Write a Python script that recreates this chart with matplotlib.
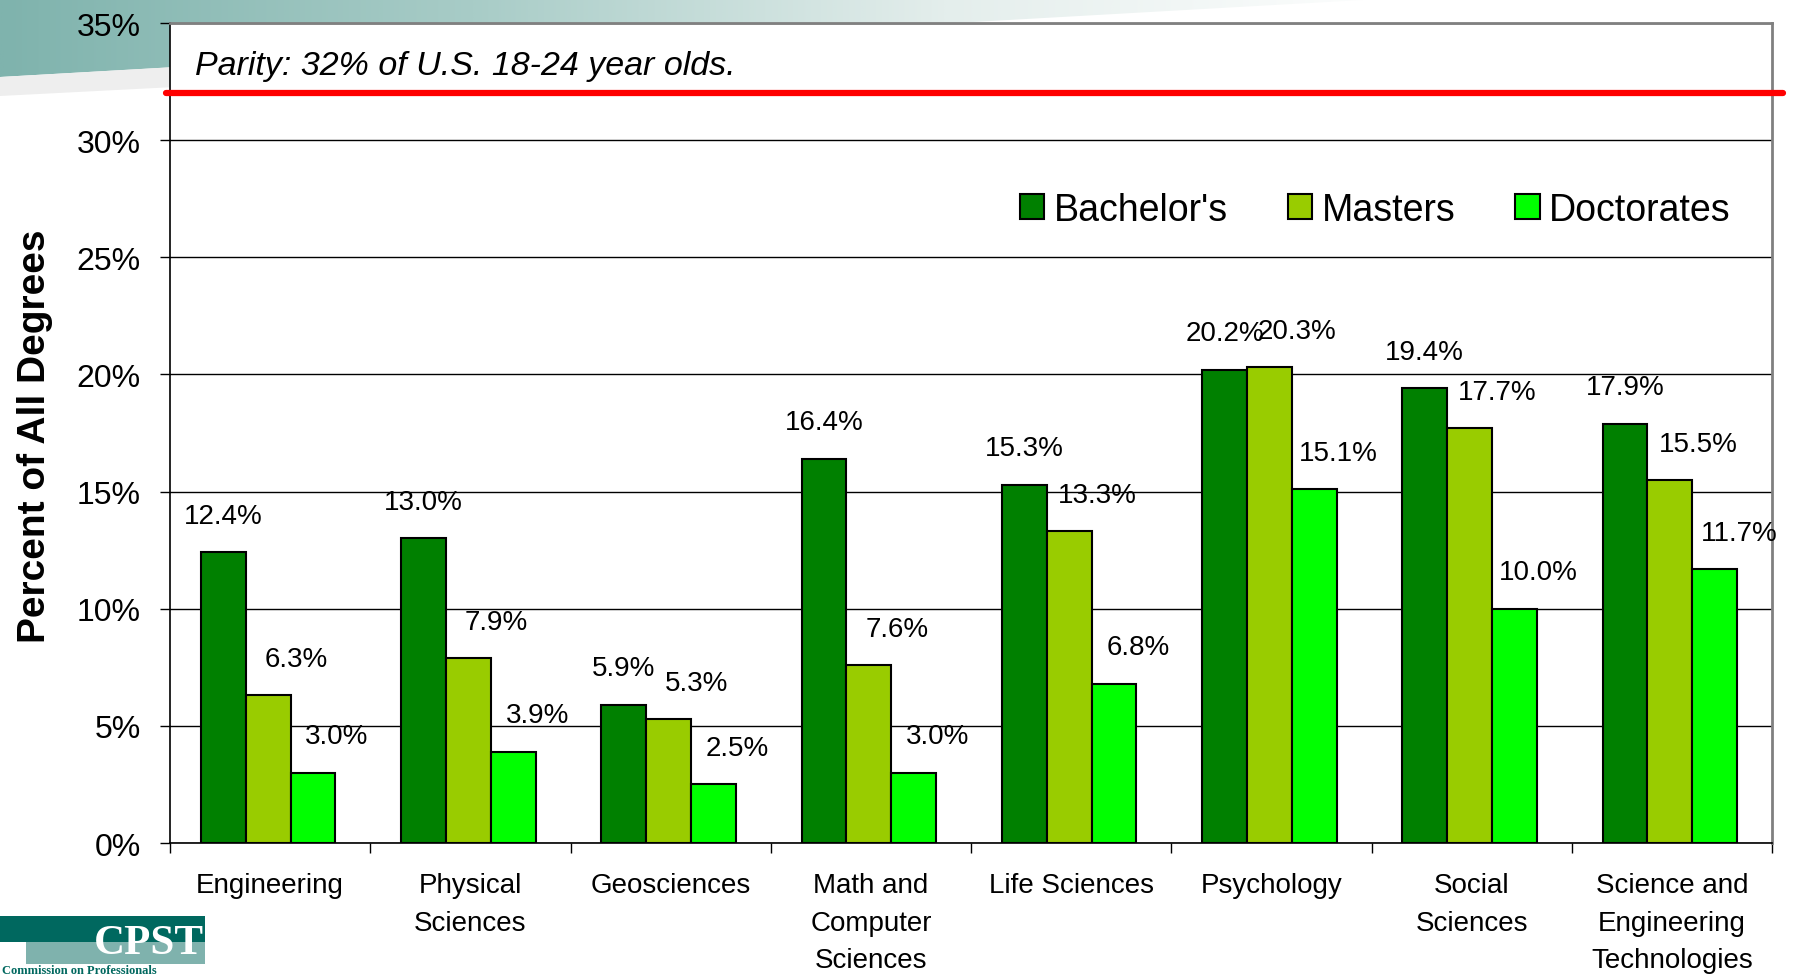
import numpy as np
import matplotlib as mpl
mpl.use('Agg')
import matplotlib.pyplot as plt
from matplotlib.patches import Polygon, Rectangle
from matplotlib.colors import LinearSegmentedColormap

plt.rcParams['font.family'] = ['Liberation Sans', 'DejaVu Sans']

# data
categories = ['Engineering', 'Physical\nSciences', 'Geosciences', 'Math and\nComputer\nSciences',
              'Life Sciences', 'Psychology', 'Social\nSciences', 'Science and\nEngineering\nTechnologies']
series_names = ["Bachelor's", 'Masters', 'Doctorates']
bachelors = [12.4, 13.0, 5.9, 16.4, 15.3, 20.2, 19.4, 17.9]
masters = [6.3, 7.9, 5.3, 7.6, 13.3, 20.3, 17.7, 15.5]
doctorates = [3.0, 3.9, 2.5, 3.0, 6.8, 15.1, 10.0, 11.7]
parity = 32
parity_text = 'Parity: 32% of U.S. 18-24 year olds.'
yticks = [0, 5, 10, 15, 20, 25, 30, 35]

colors = ['#008000', '#99CC00', '#00FF00']
label_dx = [0.0, 0.14, 0.12]

fig = plt.figure(figsize=(17.96, 9.78), dpi=100)

# background decoration (slide banner + logo), in pixel coords
bg = fig.add_axes([0, 0, 1, 1], zorder=0)
bg.set_xlim(0, 1796)
bg.set_ylim(978, 0)
bg.axis('off')
grad = np.linspace(0, 1, 512).reshape(1, -1)
cmap = LinearSegmentedColormap.from_list('banner', ['#7FB3AD', '#A8CCC7', '#E4EEEC', '#FFFFFF'])
im = bg.imshow(grad, extent=[0, 1420, 100, 0], cmap=cmap, aspect='auto')
banner = Polygon([(0, 0), (1380, 0), (0, 78)], closed=True, transform=bg.transData, facecolor='none', edgecolor='none')
bg.add_patch(banner)
im.set_clip_path(banner)
bg.add_patch(Polygon([(0, 78), (0, 97), (175, 88), (175, 68)], closed=True, facecolor='#EEEEEE', edgecolor='none'))
# CPST logo
bg.add_patch(Rectangle((0, 917), 205, 26, facecolor='#00685F', edgecolor='none'))
bg.add_patch(Rectangle((26, 943), 179, 22, facecolor='#7FB2AD', edgecolor='none'))
bg.text(149, 944, 'CPST', color='white', fontsize=31, fontweight='bold', family='Liberation Serif',
        ha='center', va='center')
bg.text(2, 971, 'Commission on Professionals', color='#00685F', fontsize=9, fontweight='bold',
        family='Liberation Serif', ha='left', va='center')

ax = fig.add_axes([170 / 1796, 1 - 844 / 978, 1602 / 1796, 820 / 978], zorder=1)
ax.set_facecolor('white')

x = np.arange(len(categories))
width = 0.224
for i, (vals, name) in enumerate(zip([bachelors, masters, doctorates], series_names)):
    pos = x + (i - 1) * width - 0.01
    ax.bar(pos, vals, width=width, color=colors[i], edgecolor='black', linewidth=1.5, label=name, zorder=3)
    for px, v in zip(pos, vals):
        ax.text(px + label_dx[i], v + 1.55, f'{v:.1f}%', ha='center', va='center', fontsize=20, zorder=4)

ax.set_xlim(-0.5, len(categories) - 0.5)
ax.set_ylim(0, 35)
ax.set_yticks(yticks)
ax.set_yticklabels([f'{t}%' for t in yticks], fontsize=23)
ax.yaxis.grid(True, color='black', linewidth=1, zorder=0)
ax.set_axisbelow(True)
ax.tick_params(axis='y', length=7, width=1, pad=14)

ax.set_xticks(np.arange(-0.5, len(categories)), [''] * (len(categories) + 1))
ax.set_xticks(x, categories, minor=True, fontsize=20, linespacing=1.58)
ax.tick_params(axis='x', which='major', length=7, width=1, direction='out')
ax.tick_params(axis='x', which='minor', length=0, pad=21)

for s in ['top', 'right']:
    ax.spines[s].set_color('#808080')
    ax.spines[s].set_linewidth(2)
for s in ['left', 'bottom']:
    ax.spines[s].set_color('black')
    ax.spines[s].set_linewidth(1.2)

# parity line
ax.plot([-0.52, len(categories) - 0.445], [parity, parity], color='#FF0000', linewidth=4.5,
        solid_capstyle='round', clip_on=False, zorder=5)
ax.text(0.0156, 0.948, parity_text, transform=ax.transAxes, fontsize=24.5, style='italic',
        ha='left', va='center')

leg = ax.legend(loc='center right', bbox_to_anchor=(0.986, 0.772), ncol=3, frameon=False, fontsize=27,
                handlelength=0.65, handleheight=0.65, handletextpad=0.25, columnspacing=1.6, borderpad=0)
for h in leg.legend_handles:
    h.set_edgecolor('black')
    h.set_linewidth(1.5)

fig.text(35 / 1796, 1 - 436 / 978, 'Percent of All Degrees', rotation=90, fontsize=28, fontweight='bold',
         ha='center', va='center')

fig.savefig('out.png', dpi=100)
